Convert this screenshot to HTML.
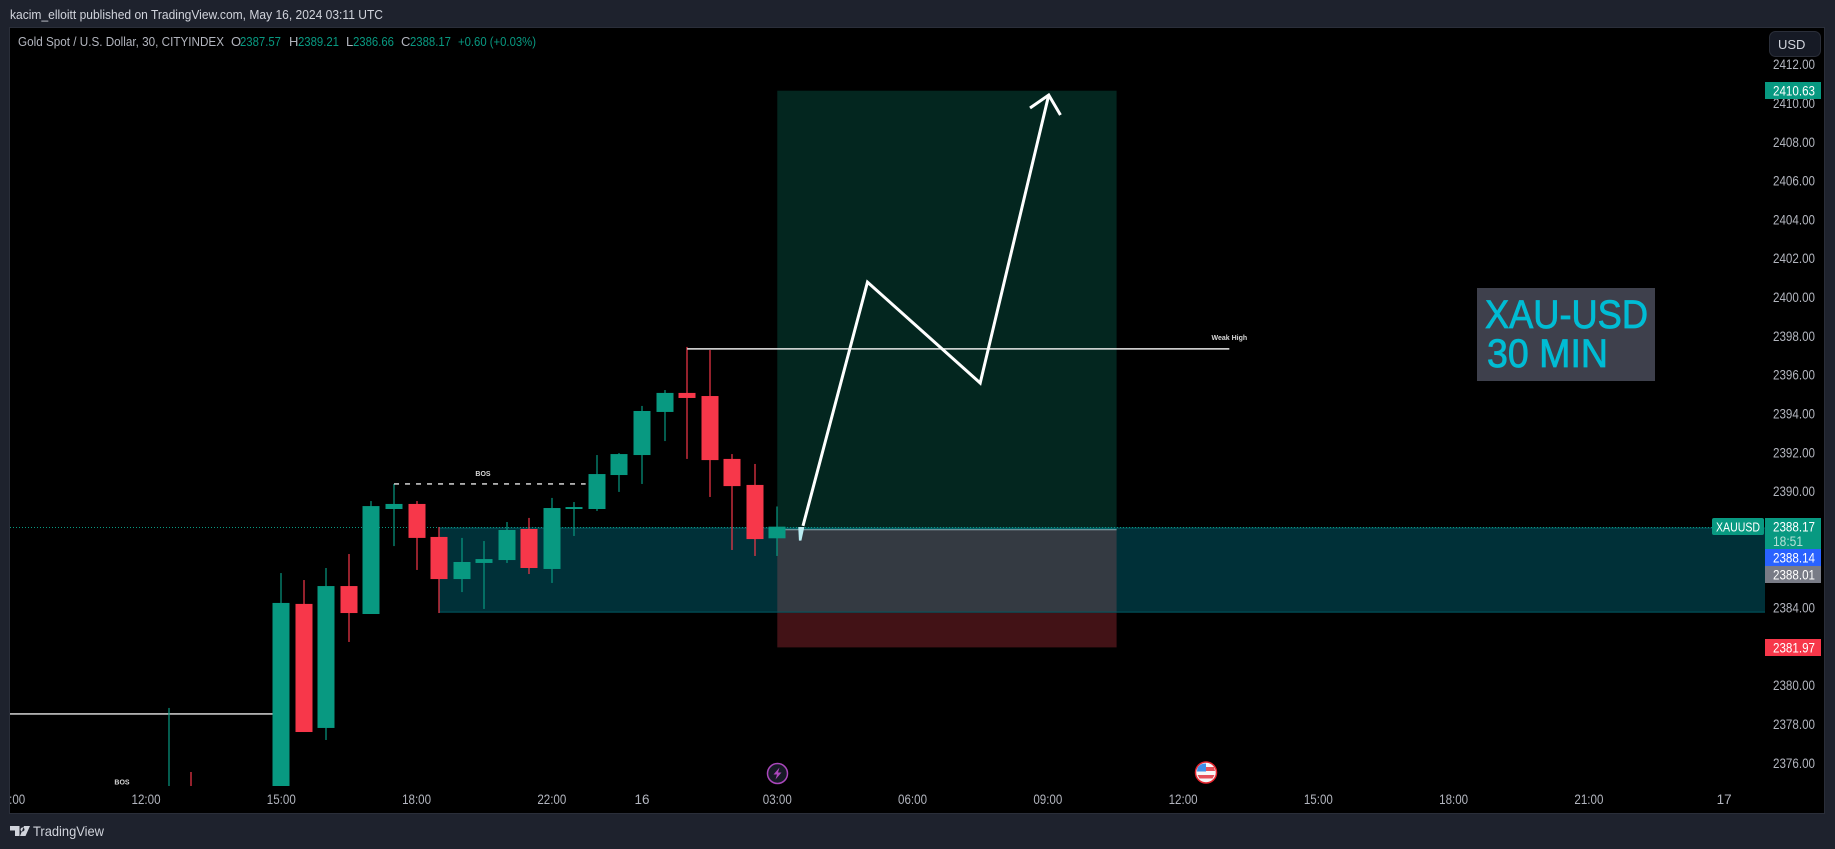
<!DOCTYPE html>
<html lang="en">
<head>
<meta charset="utf-8">
<title>XAU-USD 30 MIN chart</title>
<style>
html,body{margin:0;padding:0;background:#1e222d;width:1835px;height:849px;overflow:hidden}
svg{display:block;font-family:"Liberation Sans",sans-serif}
</style>
</head>
<body>
<svg id="chart" xmlns="http://www.w3.org/2000/svg" width="1835" height="849" viewBox="0 0 1835 849">
  <defs>
    <clipPath id="plotClip"><rect x="10" y="28" width="1755" height="758"></rect></clipPath>
    <clipPath id="axisClip"><rect x="10" y="786" width="1755" height="27"></rect></clipPath>
  </defs>
  <rect x="0" y="0" width="1835" height="849" fill="#1e222d"></rect>
  <text x="10" y="19" font-size="13" fill="#d1d4dc" textLength="373" lengthAdjust="spacingAndGlyphs">kacim_elloitt published on TradingView.com, May 16, 2024 03:11 UTC</text>
  <rect x="9.5" y="27.5" width="1815" height="786" fill="#000" stroke="#2a2e39"></rect>
  <g id="plot" clip-path="url(#plotClip)"></g>
  <g id="timeAxis" clip-path="url(#axisClip)"></g>
  <g id="priceAxis"></g>

  <g font-size="13">
    <text x="18" y="46" fill="#b2b5be" textLength="206" lengthAdjust="spacingAndGlyphs">Gold Spot / U.S. Dollar, 30, CITYINDEX</text>
    <text x="231" y="46" fill="#b2b5be">O</text>
    <text x="240" y="46" fill="#089981" textLength="41" lengthAdjust="spacingAndGlyphs">2387.57</text>
    <text x="289" y="46" fill="#b2b5be">H</text>
    <text x="298" y="46" fill="#089981" textLength="41" lengthAdjust="spacingAndGlyphs">2389.21</text>
    <text x="346" y="46" fill="#b2b5be">L</text>
    <text x="353" y="46" fill="#089981" textLength="41" lengthAdjust="spacingAndGlyphs">2386.66</text>
    <text x="401" y="46" fill="#b2b5be">C</text>
    <text x="410" y="46" fill="#089981" textLength="41" lengthAdjust="spacingAndGlyphs">2388.17</text>
    <text x="458" y="46" fill="#089981" textLength="78" lengthAdjust="spacingAndGlyphs">+0.60 (+0.03%)</text>
  </g>

  <g>
    <rect x="1477" y="288" width="178" height="93" fill="#3e404c"></rect>
    <text x="1485" y="328" font-size="40" fill="#00bcd4" stroke="#00bcd4" stroke-width="0.8" textLength="163" lengthAdjust="spacingAndGlyphs">XAU-USD</text>
    <text x="1487" y="367" font-size="40" fill="#00bcd4" stroke="#00bcd4" stroke-width="0.8" textLength="121" lengthAdjust="spacingAndGlyphs">30 MIN</text>
  </g>

  <g>
    <rect x="1769.5" y="31.5" width="51" height="25" rx="6" fill="#161a25" stroke="#2a2e39"></rect>
    <text x="1778" y="49" font-size="13" fill="#d1d4dc">USD</text>
  </g>

  <g>
    <circle cx="777.5" cy="773.5" r="10" fill="#161a25" stroke="#ab47bc" stroke-width="1.5"></circle>
    <path d="M779.5 767.5 L773.5 774.5 H777 L775.5 779.5 L781.5 772.5 H778 Z" fill="#ab47bc"></path>
  </g>
  <g transform="translate(175,0)">
    <circle cx="1031" cy="772.5" r="10.5" fill="#f7f7f7" stroke="#e5262f" stroke-width="1.5"></circle>
    <path d="M1023 767 A9 9 0 0 1 1031 763.5 V771.5 H1022 A9 9 0 0 1 1023 767 Z" fill="#3f8fe8"></path>
    <path d="M1031 767 H1039 L1040 771 H1031 Z" fill="#e5505a"></path>
    <path d="M1022.5 775 H1039.5 L1037.5 778.5 H1024.5 Z" fill="#e5505a"></path>
  </g>

  <g>
    <path d="M10 826 H19.5 V836 H15 V830.5 H10 Z M20.5 829.5 A2 2 0 1 0 20.5 829.4 Z M24 826 H30 L25.5 836 H20 Z" fill="#d1d4dc"></path>
    <text x="33" y="836" font-size="14" fill="#d1d4dc" textLength="71" lengthAdjust="spacingAndGlyphs">TradingView</text>
  </g>
</svg>
<script>
// ---- chart data (prices) ----
const barTimes = ['12:30','13:00','13:30','14:00','14:30','15:00','15:30','16:00','16:30','17:00','17:30','18:00','18:30','19:00','19:30','20:00','20:30','22:00','22:30','23:00','23:30','00:00','00:30','01:00','01:30','02:00','02:30','03:00'];
const opens  = [2373.6,2374.2,2373.2,2373.6,2373.9,2374.2,2384.19,2377.80,2385.11,2383.67,2389.08,2389.34,2387.64,2385.47,2386.30,2386.45,2388.05,2385.99,2389.08,2389.08,2390.83,2391.86,2394.08,2395.06,2394.90,2391.66,2390.32,2387.57];
const highs  = [2378.83,2375.53,2373.9,2374.0,2374.3,2385.78,2385.42,2386.04,2386.76,2389.49,2390.37,2389.49,2388.15,2387.59,2387.43,2388.41,2388.62,2389.65,2389.44,2391.86,2391.96,2394.39,2395.21,2397.43,2397.27,2391.91,2391.40,2389.21];
const lows   = [2372.8,2373.0,2372.7,2373.1,2373.2,2373.8,2377.59,2377.18,2382.23,2383.67,2387.17,2385.94,2383.72,2384.80,2383.93,2386.30,2385.73,2385.27,2387.69,2388.98,2389.96,2390.37,2392.58,2391.66,2389.70,2386.97,2386.66,2386.66];
const closes = [2374.0,2373.6,2373.6,2373.9,2374.1,2384.24,2377.59,2385.11,2383.72,2389.23,2389.34,2387.59,2385.47,2386.35,2386.50,2388.00,2386.04,2389.13,2389.18,2390.88,2391.91,2394.13,2395.06,2394.80,2391.60,2390.26,2387.53,2388.17];

const priceTicks = [2412,2410,2408,2406,2404,2402,2400,2398,2396,2394,2392,2390,2384,2380,2378,2376];
const timeTickLabels = ['09:00','12:00','15:00','18:00','22:00','16','03:00','06:00','09:00','12:00','15:00','18:00','21:00','17'];
const timeTickBars = [-7,-1,5,11,17,21,27,33,39,45,51,57,63,69];

const lastPrice = 2388.17;
const bidPrice = 2388.14;
const askPrice = 2388.01;
const targetPrice = 2410.63;
const stopPrice = 2381.95;
const stopLabelPrice = 2381.97;
const entryPrice = 2388.01;
const positionBars = [27, 42.05];
const zoneBarStart = 12;
const zonePrices = [2388.10, 2383.77];
const supportLevel = 2378.52;
const supportEndBar = 5;
const weakHighLevel = 2397.33;
const weakHighBars = [23, 47.05];
const bosLevel = 2390.37;
const bosBars = [10, 18.5];
const arrowBars = [28.14, 31, 36, 39.04];
const arrowPrices = [2388.21, 2400.77, 2395.57, 2410.41];
const arrowHeadBars = [38.21, 39.04, 39.56];
const arrowHeadPrices = [2409.74, 2410.41, 2409.38];
const arrowStartBars = [27.93, 28.2, 28.07, 27.96];
const arrowStartPrices = [2388.15, 2388.15, 2387.45, 2387.45];

// ---- axis functions ----
function xOf(bar){ return 281.3 + (bar - 5) * 22.545; }
function yOf(price){ return 607.6 - (price - 2384) * 19.41; }

const NS = 'http://www.w3.org/2000/svg';
const plot = document.getElementById('plot');
const timeAxis = document.getElementById('timeAxis');
const priceAxis = document.getElementById('priceAxis');
const PLOT_RIGHT = 1765;

function mk(tag, attrs, parent, txt){
  const e = document.createElementNS(NS, tag);
  for (const k in attrs) e.setAttribute(k, attrs[k]);
  if (txt !== undefined) e.textContent = txt;
  parent.appendChild(e);
  return e;
}
function box(x1, y1, x2, y2, fill, parent){
  return mk('rect', {x:x1, y:Math.min(y1,y2), width:x2-x1, height:Math.abs(y2-y1), fill:fill}, parent);
}
let el;

// position tool
const posL = xOf(positionBars[0]), posR = xOf(positionBars[1]);
el = box(posL, yOf(targetPrice), posR, yOf(entryPrice), '#03261f', plot);


el = box(posL, yOf(entryPrice), posR, yOf(stopPrice), '#421216', plot);



// demand zone
const zoneL = xOf(zoneBarStart);
el = box(zoneL, yOf(zonePrices[0]), PLOT_RIGHT, yOf(zonePrices[1]), '#003038', plot);


el = box(posL, yOf(zonePrices[0]), posR, yOf(entryPrice), '#006a6c', plot);


el = box(posL, yOf(entryPrice), posR, yOf(zonePrices[1]), '#343a42', plot);


el = mk('line', {x1:posL, x2:posR, y1:yOf(entryPrice), y2:yOf(entryPrice), stroke:'#8fa3a8', 'stroke-width':1}, plot);


el = mk('line', {x1:zoneL, x2:PLOT_RIGHT, y1:yOf(zonePrices[1]), y2:yOf(zonePrices[1]), stroke:'#005a64', 'stroke-width':1}, plot);


el = mk('line', {x1:zoneL, x2:PLOT_RIGHT, y1:yOf(zonePrices[0]), y2:yOf(zonePrices[0]), stroke:'#005a64', 'stroke-width':1}, plot);



// last price line
el = mk('line', {x1:10, x2:PLOT_RIGHT, y1:Math.round(yOf(lastPrice))+0.5, y2:Math.round(yOf(lastPrice))+0.5, stroke:'#089981', 'stroke-width':1, 'stroke-dasharray':'1 2'}, plot);



// support line sits behind the candles
el = mk('line', {x1:10, x2:xOf(supportEndBar), y1:yOf(supportLevel), y2:yOf(supportLevel), stroke:'#e8e8e8', 'stroke-width':1.4}, plot);



// candles
closes.forEach(function(c, i){
  const o = opens[i];
  const col = c >= o ? '#089981' : '#f7374a';
  const cx = xOf(i);
  const wick = box(Math.round(cx) - 0.6, yOf(highs[i]), Math.round(cx) + 0.6, yOf(lows[i]), col, plot);
  
  
  const body = box(Math.round(cx) - 8.5, yOf(Math.max(o, c)), Math.round(cx) + 8.5, yOf(Math.min(o, c)), col, plot);
  
  
});

// horizontal drawings
el = mk('line', {x1:xOf(weakHighBars[0]), x2:xOf(weakHighBars[1]), y1:yOf(weakHighLevel), y2:yOf(weakHighLevel), stroke:'#e8e8e8', 'stroke-width':1.4}, plot);


el = mk('line', {x1:xOf(bosBars[0]), x2:xOf(bosBars[1]), y1:yOf(bosLevel), y2:yOf(bosLevel), stroke:'#e8e8e8', 'stroke-width':1.4, 'stroke-dasharray':'5 6'}, plot);



el = mk('text', {x:xOf(weakHighBars[1]), y:yOf(weakHighLevel)-9, 'font-size':7, 'font-weight':'bold', fill:'#d8d8d8', 'text-anchor':'middle'}, plot, 'Weak High');


el = mk('text', {x:483, y:yOf(bosLevel)-8, 'font-size':7, 'font-weight':'bold', fill:'#d8d8d8', 'text-anchor':'middle'}, plot, 'BOS');


el = mk('text', {x:122, y:784.5, 'font-size':7, 'font-weight':'bold', fill:'#d8d8d8', 'text-anchor':'middle'}, plot, 'BOS');



// arrow path
el = mk('polygon', {points:arrowStartBars.map(function(b,i){return xOf(b)+','+yOf(arrowStartPrices[i]);}).join(' '), fill:'#b9ecf2'}, plot);


el = mk('polyline', {points:arrowBars.map(function(b,i){return xOf(b)+','+yOf(arrowPrices[i]);}).join(' '), fill:'none', stroke:'#fff', 'stroke-width':3, 'stroke-linejoin':'miter'}, plot);


el = mk('polyline', {points:arrowHeadBars.map(function(b,i){return xOf(b)+','+yOf(arrowHeadPrices[i]);}).join(' '), fill:'none', stroke:'#fff', 'stroke-width':3}, plot);



// time axis
timeTickLabels.forEach(function(lbl, i){
  const t = mk('text', {x:xOf(timeTickBars[i]), y:804, 'font-size':13.5, fill:'#b2b5be', 'text-anchor':'middle', textLength:lbl.length > 2 ? 29 : 15, lengthAdjust:'spacingAndGlyphs'}, timeAxis, lbl);
  
  
});

// price axis
priceTicks.forEach(function(p){
  const t = mk('text', {x:1773, y:yOf(p)+5, 'font-size':13.5, fill:'#b2b5be', textLength:42, lengthAdjust:'spacingAndGlyphs'}, priceAxis, p.toFixed(2));
  
  
});

function priceTag(price, top, h, fill, name){
  const r = box(1765, top, 1821, top + h, fill, priceAxis);
  
  
  const t = mk('text', {x:1773, y:top + 13.5, 'font-size':13.5, fill:'#fff', textLength:42, lengthAdjust:'spacingAndGlyphs'}, priceAxis, price.toFixed(2));
  
  
}
priceTag(targetPrice, Math.round(yOf(targetPrice)) - 9, 17, '#089981', 'target-price-tag');
priceTag(stopLabelPrice, Math.round(yOf(stopLabelPrice)) - 8, 17, '#f7374a', 'stop-price-tag');
priceTag(lastPrice, 518, 31, '#089981', 'last-price-tag');
priceTag(bidPrice, 549, 17, '#2962ff', 'bid-price-tag');
priceTag(askPrice, 566, 17, '#787b86', 'ask-price-tag');

el = mk('text', {x:1773, y:546, 'font-size':13.5, fill:'#b5e0d6', textLength:30, lengthAdjust:'spacingAndGlyphs'}, priceAxis, '18:51');



el = mk('rect', {x:1712, y:518, width:52, height:17, rx:2, fill:'#089981'}, priceAxis);


el = mk('text', {x:1738, y:531.5, 'font-size':13, fill:'#fff', 'text-anchor':'middle', textLength:44, lengthAdjust:'spacingAndGlyphs'}, priceAxis, 'XAUUSD');


</script>
</body>
</html>
